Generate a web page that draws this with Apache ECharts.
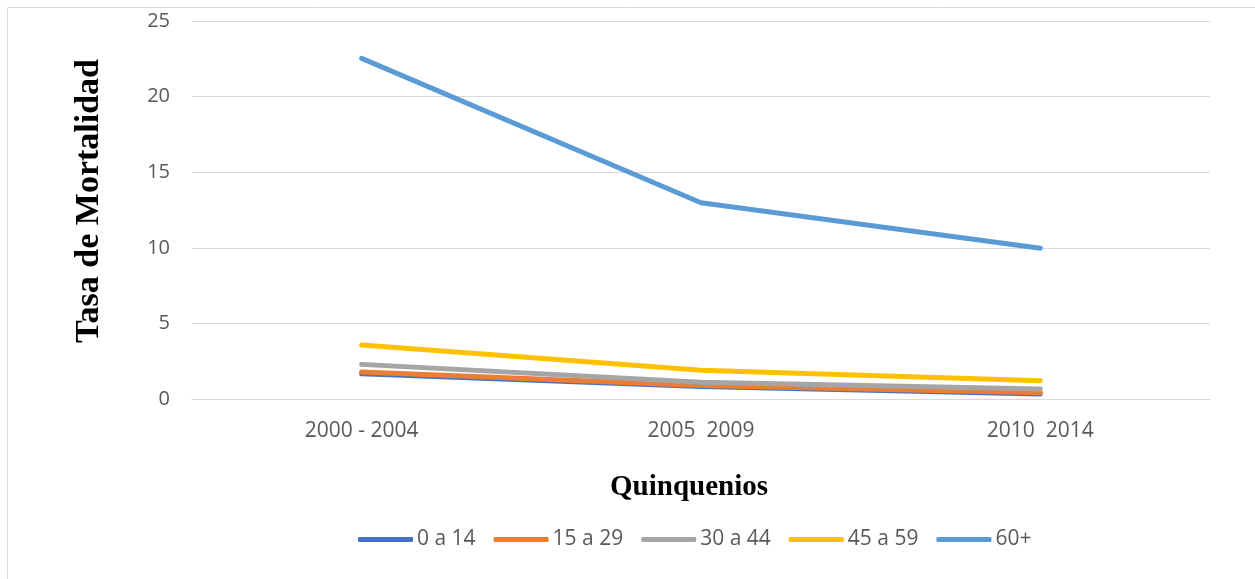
<!DOCTYPE html>
<html>
<head>
<meta charset="utf-8">
<script src="https://cdn.jsdelivr.net/npm/echarts@6/dist/echarts.min.js"></script>
<style>
html,body{margin:0;padding:0;background:#fff;}
#chart{width:1255px;height:579px;}
</style>
</head>
<body>
<div id="chart"></div>
<script>
const categories = ['2000 - 2004', '2005  2009', '2010  2014'];
const seriesNames = ['0 a 14', '15 a 29', '30 a 44', '45 a 59', '60+'];
const s0a14 = [1.67, 0.82, 0.33];
const s15a29 = [1.79, 0.90, 0.42];
const s30a44 = [2.29, 1.10, 0.66];
const s45a59 = [3.57, 1.90, 1.21];
const s60plus = [22.53, 12.98, 9.97];
const yTicks = [0, 5, 10, 15, 20, 25];

const colors = ['#4472C4', '#ED7D31', '#A5A5A5', '#FFC000', '#5B9BD5'];
const allData = [s0a14, s15a29, s30a44, s45a59, s60plus];

const chart = echarts.init(document.getElementById('chart'), null, {renderer: 'canvas'});
const labelFont = "'Open Sans', sans-serif";
const serifFont = "'Liberation Serif', 'Times New Roman', serif";

chart.setOption({
  animation: false,
  backgroundColor: '#ffffff',
  grid: {left: 192, right: 45, top: 21, bottom: 180, containLabel: false},
  xAxis: {
    type: 'category',
    data: categories,
    boundaryGap: true,
    axisLine: {show: true, lineStyle: {color: '#d9d9d9', width: 1}},
    axisTick: {show: false},
    axisLabel: {color: '#595959', fontSize: 21, fontFamily: labelFont, margin: 22}
  },
  yAxis: {
    type: 'value',
    min: yTicks[0],
    max: yTicks[yTicks.length - 1],
    interval: 5,
    axisLine: {show: false},
    axisTick: {show: false},
    splitLine: {lineStyle: {color: '#d9d9d9', width: 1}},
    axisLabel: {color: '#595959', fontSize: 20, fontFamily: labelFont, margin: 22}
  },
  legend: {
    data: seriesNames,
    bottom: 24,
    left: 353,
    icon: 'roundRect',
    itemWidth: 55,
    itemHeight: 5,
    itemGap: 18,
    textStyle: {color: '#595959', fontSize: 21, fontFamily: labelFont, padding: [0, 0, 0, -1]}
  },
  graphic: [
    {type: 'text', x: 89, y: 201, rotation: Math.PI / 2, style: {text: 'Tasa de Mortalidad', fontFamily: serifFont, fontWeight: 'bold', fontSize: 34, fill: '#000', align: 'center', verticalAlign: 'middle'}},
    {type: 'text', x: 689, y: 488, style: {text: 'Quinquenios', fontFamily: serifFont, fontWeight: 'bold', fontSize: 29, fill: '#000', align: 'center', verticalAlign: 'middle'}},
    {type: 'line', shape: {x1: 7.5, y1: 7.5, x2: 1255, y2: 7.5}, style: {stroke: '#d9d9d9', lineWidth: 1}},
    {type: 'line', shape: {x1: 7.5, y1: 7.5, x2: 7.5, y2: 579}, style: {stroke: '#d9d9d9', lineWidth: 1}}
  ],
  series: seriesNames.map((name, i) => ({
    name: name,
    type: 'line',
    data: allData[i],
    symbol: 'none',
    smooth: false,
    lineStyle: {color: colors[i], width: 5, cap: 'round', join: 'round'},
    itemStyle: {color: colors[i]}
  }))
});
</script>
</body>
</html>
